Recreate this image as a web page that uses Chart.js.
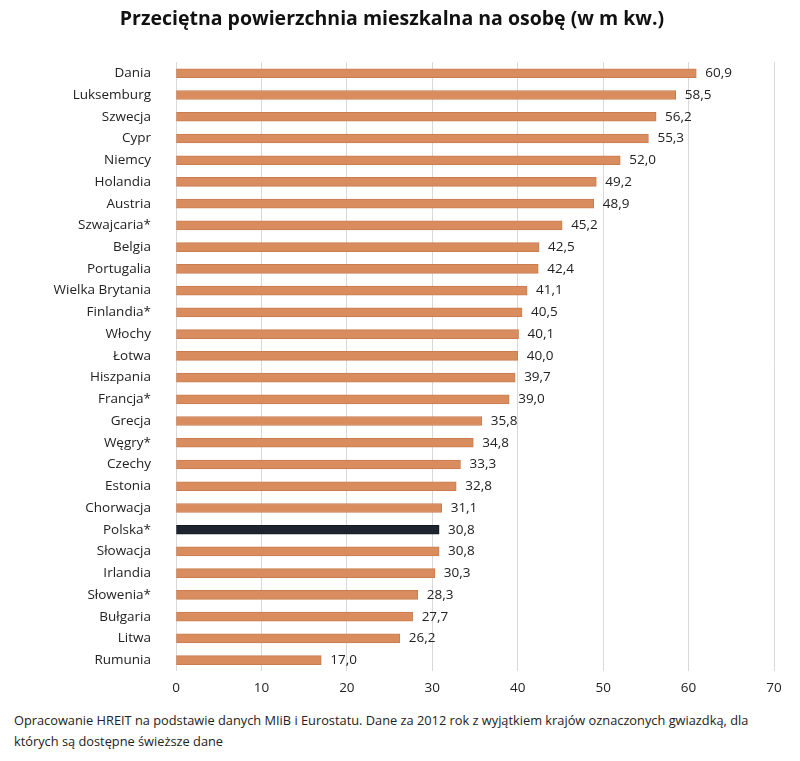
<!DOCTYPE html>
<html>
<head>
<meta charset="utf-8">
<script src="https://cdn.jsdelivr.net/npm/chart.js@4"></script>
<style>
  body { margin: 0; background: #fff; }
  #wrap { position: relative; width: 800px; height: 761px; }
  #box { position: absolute; left: 0; top: 0; width: 800px; height: 700px; }
  #note {
    position: absolute; left: 14px; top: 710px; width: 770px;
    font: 12.8px "Open Sans", sans-serif; line-height: 21px; color: #222;
  }
</style>
</head>
<body>
<div id="wrap">
  <div id="box"><canvas id="myChart"></canvas></div>
  <div id="note">Opracowanie HREIT na podstawie danych MIiB i Eurostatu. Dane za 2012 rok z wyjątkiem krajów oznaczonych gwiazdką, dla których są dostępne świeższe dane</div>
</div>
<script>
// dane z wykresu
const kraje = ['Dania', 'Luksemburg', 'Szwecja', 'Cypr', 'Niemcy', 'Holandia', 'Austria',
  'Szwajcaria*', 'Belgia', 'Portugalia', 'Wielka Brytania', 'Finlandia*', 'Włochy', 'Łotwa',
  'Hiszpania', 'Francja*', 'Grecja', 'Węgry*', 'Czechy', 'Estonia', 'Chorwacja', 'Polska*',
  'Słowacja', 'Irlandia', 'Słowenia*', 'Bułgaria', 'Litwa', 'Rumunia']
const powierzchnia = [60.9, 58.5, 56.2, 55.3, 52.0, 49.2, 48.9, 45.2, 42.5, 42.4, 41.1, 40.5,
  40.1, 40.0, 39.7, 39.0, 35.8, 34.8, 33.3, 32.8, 31.1, 30.8, 30.8, 30.3, 28.3, 27.7, 26.2, 17.0]
const osX = [0, 10, 20, 30, 40, 50, 60, 70]

const kolor = '#d98d5f'
const kolorPolska = '#1f2431'
const czcionka = 'Open Sans'

// etykiety wartosci na koncu slupkow
const etykiety = {
  id: 'etykiety',
  afterDatasetsDraw(chart) {
    const ctx = chart.ctx
    const meta = chart.getDatasetMeta(0)
    ctx.save()
    ctx.font = '13.5px "Open Sans", sans-serif'
    ctx.fillStyle = '#222'
    ctx.textBaseline = 'middle'
    ctx.textAlign = 'left'
    meta.data.forEach((bar, i) => {
      ctx.fillText(powierzchnia[i].toFixed(1).replace('.', ','), bar.x + 9, bar.y)
    })
    ctx.restore()
  }
}

new Chart(document.getElementById('myChart'), {
  type: 'bar',
  data: {
    labels: kraje,
    datasets: [{
      data: powierzchnia,
      backgroundColor: kraje.map(k => k === 'Polska*' ? kolorPolska : kolor),
      borderColor: kraje.map(k => k === 'Polska*' ? '#141820' : '#c97c50'),
      borderWidth: 1,
      borderSkipped: false,
      barThickness: 9
    }]
  },
  options: {
    indexAxis: 'y',
    responsive: true,
    maintainAspectRatio: false,
    animation: false,
    layout: { padding: { left: 10, right: 26, top: 0, bottom: 0 } },
    plugins: {
      legend: { display: false },
      tooltip: { enabled: false },
      title: {
        display: true,
        text: 'Przeciętna powierzchnia mieszkalna na osobę (w m kw.)',
        color: '#111',
        font: { family: czcionka, size: 19.5, weight: 'bold' },
        padding: { top: 8, bottom: 31 }
      }
    },
    scales: {
      x: {
        min: 0,
        max: 70,
        afterBuildTicks: s => { s.ticks = osX.map(v => ({ value: v })) },
        afterFit: s => { s.height = 29 },
        grid: { color: '#d9d9d9', drawTicks: false },
        border: { display: false },
        ticks: { color: '#222', padding: 9, font: { family: czcionka, size: 13.5 } }
      },
      y: {
        afterFit: s => { s.width = 166 },
        grid: { display: false },
        border: { display: false },
        ticks: { color: '#222', padding: 17, font: { family: czcionka, size: 13.5 } }
      }
    }
  },
  plugins: [etykiety]
})
</script>
</body>
</html>
